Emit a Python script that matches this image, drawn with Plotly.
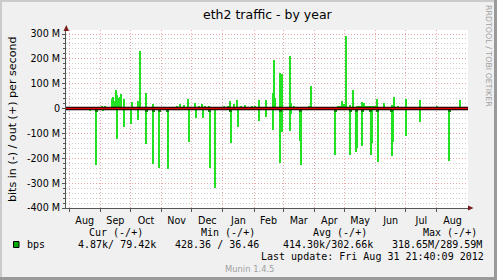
import plotly.graph_objects as go
import pandas as pd

# ---------------- data (Mbit/s) ----------------
# outgoing traffic (plotted positive) - daily averages
out_dates = [
    "2011-09-03", "2011-09-06", "2011-09-13", "2011-09-14", "2011-09-15", "2011-09-16",
    "2011-09-17", "2011-09-18", "2011-09-19", "2011-09-20", "2011-09-21", "2011-09-22",
    "2011-09-23", "2011-09-25", "2011-09-26", "2011-09-28", "2011-09-30", "2011-10-03",
    "2011-10-06", "2011-10-09", "2011-10-11", "2011-10-13", "2011-10-17", "2011-10-24",
    "2011-10-31", "2011-11-06", "2011-11-16", "2011-11-19", "2011-11-23", "2011-11-27",
    "2011-12-01", "2011-12-04", "2011-12-08", "2011-12-11", "2011-12-14", "2011-12-18",
    "2011-12-23", "2012-01-02", "2012-01-06", "2012-01-08", "2012-01-12", "2012-01-15",
    "2012-01-19", "2012-01-23", "2012-01-30", "2012-02-02", "2012-02-06", "2012-02-13",
    "2012-02-20", "2012-02-21", "2012-02-22", "2012-02-27", "2012-02-28", "2012-02-29",
    "2012-03-01", "2012-03-08", "2012-03-09", "2012-03-12", "2012-03-27", "2012-03-29",
    "2012-04-29", "2012-05-01", "2012-05-03", "2012-05-07", "2012-05-10", "2012-05-19",
    "2012-05-21", "2012-06-02", "2012-06-09", "2012-06-17", "2012-06-19", "2012-06-23",
    "2012-07-01", "2012-07-15", "2012-08-01", "2012-08-11", "2012-08-21", "2012-08-24",
]
out_mbps = [
    12, 12, 40, 47, 15, 30,
    75, 53, 10, 44, 48, 59,
    8, 39, 8, 8, 8, 28,
    8, 29, 233, 5, 61, 20,
    8, 8, 10, 17, 15, 37,
    8, 22, 10, 19, 10, 10,
    6, 10, 10, 30, 19, 33,
    10, 14, 10, 10, 33, 33,
    63, 195, 44, 143, 100, 139,
    8, 210, 22, 10, 10, 90,
    30, 20, 290, 15, 75, 27,
    24, 37, 24, 15, 47, 10,
    40, 33, 10, 8, 8, 33,
]

# low steady outgoing traffic periods
band_start = ["2011-08-10", "2011-09-01", "2012-02-15", "2012-04-17", "2012-04-24",
              "2012-05-12", "2012-07-07", "2012-07-19"]
band_end = ["2011-09-01", "2011-09-12", "2012-02-19", "2012-04-22", "2012-05-03",
            "2012-06-02", "2012-07-14", "2012-07-26"]
band_mbps = [7, 6, 6, 6, 11, 11, 6, 6]

# incoming traffic (plotted negative)
in_dates = [
    "2011-08-22", "2011-08-28", "2011-09-04", "2011-09-18", "2011-09-25", "2011-10-02",
    "2011-10-09", "2011-10-17", "2011-10-24", "2011-10-30", "2011-11-07", "2011-11-28",
    "2011-12-05", "2011-12-12", "2011-12-19", "2011-12-24", "2012-01-09", "2012-01-16",
    "2012-02-06", "2012-02-13", "2012-02-20", "2012-02-27", "2012-02-29", "2012-03-08",
    "2012-03-09", "2012-03-18", "2012-03-19", "2012-04-22", "2012-05-07", "2012-05-13",
    "2012-05-14", "2012-05-19", "2012-05-27", "2012-05-28", "2012-06-03", "2012-06-17",
    "2012-06-18", "2012-07-01", "2012-07-15", "2012-08-13", "2012-08-18",
]
in_mbps = [
    11, 225, 11, 121, 74, 61,
    45, 141, 223, 241, 245, 134,
    38, 38, 239, 319, 140, 73,
    49, 33, 86, 220, 95, 89,
    20, 132, 226, 188, 185, 173,
    160, 150, 185, 140, 214, 189,
    135, 109, 53, 210, 5,
]

# darker marks just below the zero line
dark_dates = ["2011-08-28", "2011-10-17", "2011-10-24", "2011-10-30", "2011-11-07",
              "2011-12-19", "2012-01-09", "2012-02-27", "2012-03-18", "2012-04-22",
              "2012-05-07", "2012-05-13", "2012-05-19", "2012-05-27", "2012-06-03",
              "2012-06-17", "2012-08-13"]
dark_mbps = [12] * len(dark_dates)

y_ticks = [-400, -300, -200, -100, 0, 100, 200, 300]
y_tick_labels = ["-400 M", "-300 M", "-200 M", "-100 M", "0", "100 M", "200 M", "300 M"]

x_start = "2011-07-28 21:40"
x_end = "2012-08-31 21:40"

title_text = "eth2 traffic - by year"
y_title = "bits in (-) / out (+) per second"
credit = "RRDTOOL / TOBI OETIKER"
legend_name = "bps"
legend_headers = ["Cur (-/+)", "Min (-/+)", "Avg (-/+)", "Max (-/+)"]
legend_values = ["4.87k/ 79.42k", "428.36 / 36.46", "414.30k/302.66k", "318.65M/289.59M"]
last_update = "Last update: Fri Aug 31 21:40:09 2012"
watermark = "Munin 1.4.5"

# ---------------- geometry helpers ----------------
W, H = 497, 280
L, R, T, B = 66, 468, 30, 208
ZERO_Y = 108.57
PX_PER_100 = (B - 34) / 7.0
y_top = (ZERO_Y - T) / PX_PER_100 * 100


def px(x):
    return (x - L) / (R - L)


def py(y):
    return (B - y) / (B - T)


GREEN = "#22E022"
DAY_MS = 86400000

fig = go.Figure()

bs = pd.to_datetime(band_start)
be = pd.to_datetime(band_end)
band_mid = bs + (be - bs) / 2
band_w = [(e - s).total_seconds() * 1000 for s, e in zip(bs, be)]
fig.add_trace(go.Bar(x=band_mid, y=band_mbps, width=band_w, marker=dict(color=GREEN, line=dict(width=0))))
fig.add_trace(go.Bar(x=pd.to_datetime(out_dates), y=out_mbps, width=1.2 * DAY_MS,
                     marker=dict(color=GREEN, line=dict(width=0))))
fig.add_trace(go.Bar(x=pd.to_datetime(in_dates), y=[-v for v in in_mbps], width=1.2 * DAY_MS,
                     marker=dict(color=GREEN, line=dict(width=0))))
fig.add_trace(go.Bar(x=pd.to_datetime(dark_dates), y=[-v for v in dark_mbps], width=3 * DAY_MS,
                     marker=dict(color="#128A12", line=dict(width=0))))

axis_font = dict(family="DejaVu Sans", size=9.6, color="black")
MAJOR_GRID = "#EBA5A5"
MINOR_GRID = "#CACACA"

fig.update_layout(
    width=W, height=H,
    margin=dict(l=L, r=W - R, t=T, b=H - B, pad=0),
    paper_bgcolor="#F0F0F0", plot_bgcolor="white",
    showlegend=False, barmode="overlay", bargap=0,
    xaxis=dict(
        type="date", range=[x_start, x_end], dtick="M1", tick0="2011-08-01",
        tickformat="%b", ticklabelmode="period",
        showgrid=True, gridcolor=MAJOR_GRID, griddash="1px,2px", gridwidth=1,
        showline=True, linecolor="#555555", linewidth=1,
        ticks="outside", ticklen=3, tickcolor="#555555",
        tickfont=axis_font, zeroline=False, fixedrange=True,
    ),
    yaxis=dict(
        range=[-400, y_top], tickvals=y_ticks, ticktext=y_tick_labels,
        showgrid=True, gridcolor=MAJOR_GRID, griddash="1px,2px", gridwidth=1,
        minor=dict(dtick=20, tick0=0, showgrid=True, gridcolor=MINOR_GRID, griddash="1px,2px",
                   ticks="outside", ticklen=2, tickcolor="#555555"),
        showline=True, linecolor="#555555", linewidth=1,
        ticks="outside", ticklen=3, tickcolor="#555555",
        tickfont=axis_font, zeroline=False, fixedrange=True,
    ),
)

shapes = []
# zero line
shapes.append(dict(type="line", xref="paper", yref="y", x0=0, x1=1, y0=0, y1=0,
                   line=dict(color="black", width=3.5), layer="above"))
shapes.append(dict(type="line", xref="paper", yref="y", x0=0, x1=1, y0=0, y1=0,
                   line=dict(color="#E00000", width=1.5), layer="above"))
# axis arrows
ARROW = "#7A1A1A"
shapes.append(dict(type="path", xref="paper", yref="paper",
                   path=f"M {px(63.5)} {py(31)} L {px(69)} {py(31)} L {px(66.3)} {py(25)} Z",
                   fillcolor=ARROW, line=dict(width=0), layer="above"))
shapes.append(dict(type="path", xref="paper", yref="paper",
                   path=f"M {px(468)} {py(205.5)} L {px(468)} {py(210.5)} L {px(473.5)} {py(208)} Z",
                   fillcolor=ARROW, line=dict(width=0), layer="above"))
# image frame
shapes.append(dict(type="rect", xref="paper", yref="paper", x0=px(0), x1=px(W), y0=py(0), y1=py(2),
                   fillcolor="#CBCBCB", line=dict(width=0)))
shapes.append(dict(type="rect", xref="paper", yref="paper", x0=px(0), x1=px(2), y0=py(0), y1=py(H),
                   fillcolor="#CBCBCB", line=dict(width=0)))
shapes.append(dict(type="rect", xref="paper", yref="paper", x0=px(0), x1=px(W), y0=py(H - 3), y1=py(H),
                   fillcolor="#9A9A9A", line=dict(width=0)))
shapes.append(dict(type="rect", xref="paper", yref="paper", x0=px(W - 3), x1=px(W), y0=py(0), y1=py(H),
                   fillcolor="#9A9A9A", line=dict(width=0)))
# legend swatch
shapes.append(dict(type="rect", xref="paper", yref="paper", x0=px(13.5), x1=px(19), y0=py(241.5), y1=py(247.5),
                   fillcolor="#00AA00", line=dict(color="black", width=1)))
fig.update_layout(shapes=shapes)

ann = []


def add_text(text, x, y, size, family="DejaVu Sans", color="black", xanchor="center", angle=0):
    ann.append(dict(text=text, x=px(x), y=py(y), xref="paper", yref="paper", showarrow=False,
                    xanchor=xanchor, yanchor="middle", textangle=angle, borderpad=0, borderwidth=0,
                    font=dict(family=family, size=size, color=color)))


add_text(title_text, 267.5, 14, 12.5)
add_text(y_title, 12, 119, 11.1, angle=-90)
add_text(credit, 489, 56, 7.9, color="#A0A0A0", angle=90)

MONO = "DejaVu Sans Mono"
for h, xl in zip(legend_headers, [89, 201, 312.5, 423]):
    add_text(h, xl, 232.7, 10, family=MONO, xanchor="left")
add_text(legend_name, 26.5, 244.3, 10, family=MONO, xanchor="left")
for v, xl in zip(legend_values, [78, 175, 283, 391.5]):
    add_text(v, xl, 244.3, 10, family=MONO, xanchor="left")
add_text(last_update, 483.5, 256.7, 10, family=MONO, xanchor="right")
add_text(watermark, 249, 269, 8.4, color="#A0A0A0")

fig.update_layout(annotations=ann)

fig.write_html("out.html")
